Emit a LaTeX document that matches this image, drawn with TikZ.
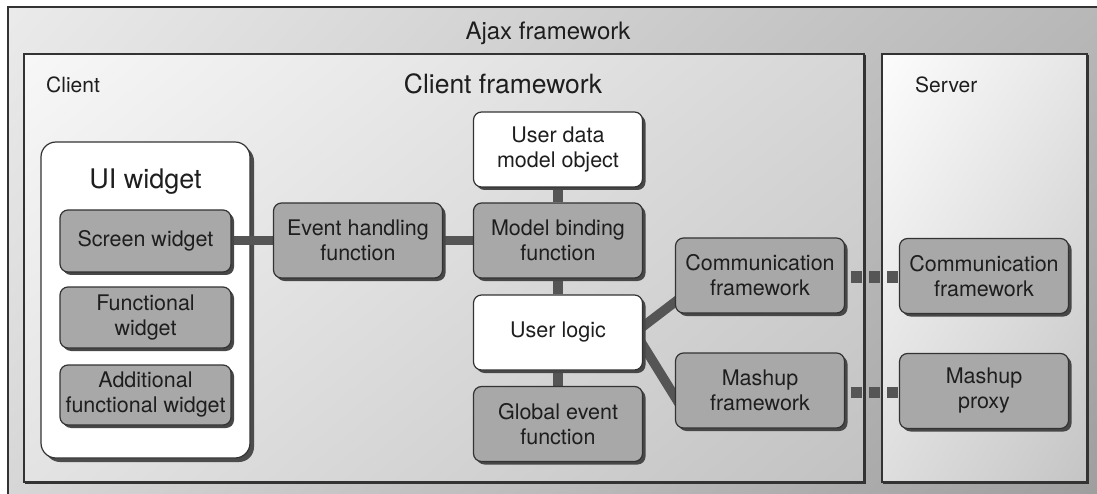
\documentclass[tikz,border=0pt]{standalone}
\usepackage{fontspec}
\setmainfont{TeX Gyre Heros}
\usetikzlibrary{shadows,shadings}
\definecolor{boxgray}{HTML}{A8A8A8}
\definecolor{conngray}{HTML}{555555}
\definecolor{edge}{HTML}{333333}
\definecolor{txt}{HTML}{1E1E1E}
\pgfdeclarelayer{frames}
\pgfdeclarelayer{links}
\pgfsetlayers{frames,links,main}
\tikzset{
  gbox/.style={draw=edge, line width=1.2pt, rounded corners=8pt, fill=boxgray,
    text=txt, align=center, inner sep=0pt, minimum width=169pt, minimum height=75pt,
    font=\fontsize{21.5}{25}\selectfont,
    drop shadow={shadow xshift=3pt, shadow yshift=-3pt, fill=black!72, opacity=1}},
  wbox/.style={gbox, fill=white},
  conn/.style={line width=9.5pt, draw=conngray},
  dconn/.style={line width=11pt, draw=conngray, dash pattern=on 10.5pt off 7.5pt},
  frame/.style={draw=edge, line width=1.3pt},
  title/.style={text=txt, inner sep=0pt}
}
\begin{document}
\begin{tikzpicture}[x=1pt,y=-1pt]
\useasboundingbox (0,0) rectangle (1097,494);
\begin{pgfonlayer}{frames}
  \fill[white] (0,0) rectangle (1097,494);
  \shade[upper left=black!8, upper right=black!28, lower left=black!16, lower right=black!38]
    (8,7) rectangle (1100,500);
  \draw[frame] (8,500) -- (8,7) -- (1100,7);
  \shade[upper left=black!3, upper right=black!16, lower left=black!11, lower right=black!24]
    (24,54) rectangle (864,482);
  \draw[frame] (24,54) rectangle (864,482);
  \draw[edge, line width=1.2pt] (865,55) -- (865,483) -- (25,483);
  \shade[upper left=black!1, upper right=black!10, lower left=black!13, lower right=black!23]
    (882,54) rectangle (1087,482);
  \draw[frame] (882,54) rectangle (1087,482);
  \draw[edge, line width=1.2pt] (1088,55) -- (1088,483) -- (883,483);
  \node[draw=edge, line width=1.2pt, fill=white, rounded corners=15pt,
    minimum width=209pt, minimum height=316pt, inner sep=0pt,
    drop shadow={shadow xshift=4pt, shadow yshift=-4pt, fill=black!70, opacity=1}]
    (ui) at (145.5,300) {};
\end{pgfonlayer}

\node[title, font=\fontsize{24}{28}\selectfont] (ajax) at (548,33) {Ajax framework};
\node[title, font=\fontsize{26.5}{30}\selectfont] (cfw) at (503,84) {Client framework};
\node[title, font=\fontsize{21}{25}\selectfont, anchor=west] (client) at (46,85) {Client};
\node[title, font=\fontsize{21}{25}\selectfont, anchor=west] (server) at (915,85) {Server};
\node[title, font=\fontsize{27}{31}\selectfont] (uit) at (145.5,182) {UI widget};

\node[gbox, minimum width=171pt, minimum height=62pt] (sw) at (145.5,241) {Screen widget};
\node[gbox, minimum width=171pt, minimum height=61pt] (fw) at (145.5,317.5) {Functional\\widget};
\node[gbox, minimum width=171pt, minimum height=60pt] (aw) at (145.5,395) {Additional\\functional widget};

\node[gbox] (eh) at (358,240.5) {Event handling\\function};
\node[wbox] (ud) at (558,149.5) {User data\\model object};
\node[gbox] (mb) at (558,240.5) {Model binding\\function};
\node[wbox] (ul) at (558,332.5) {User logic};
\node[gbox] (ge) at (558,424) {Global event\\function};
\node[gbox] (cc) at (760,275.5) {Communication\\framework};
\node[gbox] (mf) at (760,390.5) {Mashup\\framework};
\node[gbox] (sc) at (984,276) {Communication\\framework};
\node[gbox] (mp) at (984,391) {Mashup\\proxy};

\begin{pgfonlayer}{links}
  \draw[conn] (eh.west -| sw.east) -- (eh.west);
  \draw[conn] (eh.east) -- (mb.west);
  \draw[conn] (mb.north) -- (mb.north |- ud.south);
  \draw[conn] (mb.south) -- (ul.north);
  \draw[conn] (ul.south) -- (ge.north);
  \draw[conn] ([xshift=-8pt]ul.east) -- ([xshift=6pt,yshift=-22pt]cc.west);
  \draw[conn] ([xshift=-8pt]ul.east) -- ([xshift=6pt,yshift=-16pt]mf.west);
\end{pgfonlayer}
\draw[dconn] ([xshift=6pt,yshift=-1.5pt]cc.east) -- ([xshift=53pt,yshift=-1.5pt]cc.east);
\draw[dconn] ([xshift=6pt,yshift=-1.5pt]mf.east) -- ([xshift=53pt,yshift=-1.5pt]mf.east);
\end{tikzpicture}
\end{document}
